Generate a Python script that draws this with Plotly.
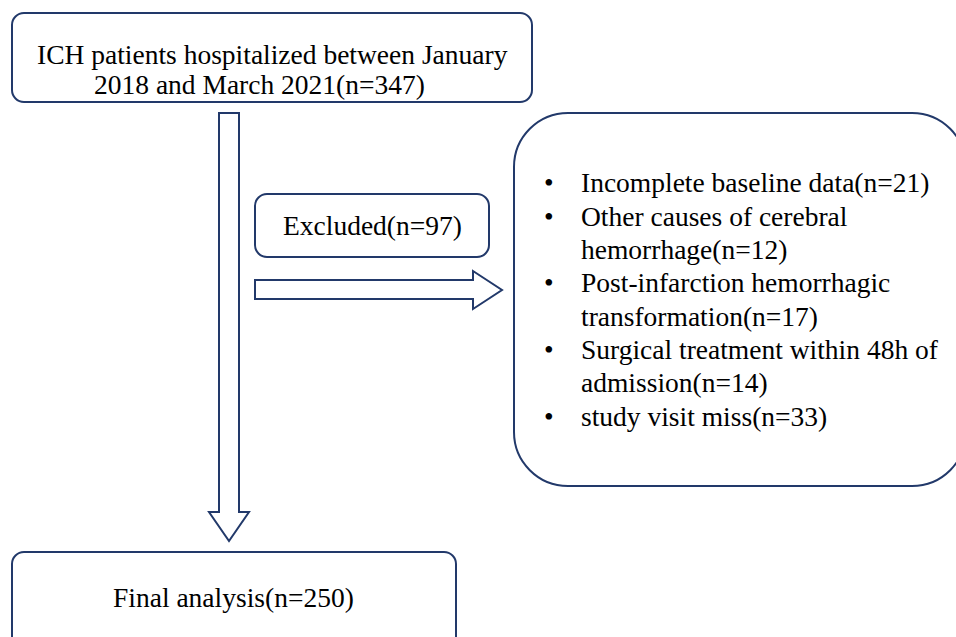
import plotly.graph_objects as go

# ---------------- data (text content of the flowchart) ----------------
n_total = 347
n_excluded = 97
n_final = 250
top_lines = ["ICH patients hospitalized between January",
             f"2018 and March 2021(n={n_total})"]
excluded_label = f"Excluded(n={n_excluded})"
final_label = f"Final analysis(n={n_final})"
reason_names = [["Incomplete baseline data"],
                ["Other causes of cerebral", "hemorrhage"],
                ["Post-infarction hemorrhagic", "transformation"],
                ["Surgical treatment within 48h of", "admission"],
                ["study visit miss"]]
reason_counts = [21, 12, 17, 14, 33]

# ---------------- style ----------------
W, H = 956, 637
FONT = "Liberation Serif, Times New Roman, serif"
FS = 27.5
BORDER = "#22396A"
LW = 2

def rrect(x0, y0, x1, y1, r):
    k = 0.5523 * r
    return (f"M {x0+r},{y0} L {x1-r},{y0} "
            f"C {x1-r+k},{y0} {x1},{y0+r-k} {x1},{y0+r} "
            f"L {x1},{y1-r} "
            f"C {x1},{y1-r+k} {x1-r+k},{y1} {x1-r},{y1} "
            f"L {x0+r},{y1} "
            f"C {x0+r-k},{y1} {x0},{y1-r+k} {x0},{y1-r} "
            f"L {x0},{y0+r} "
            f"C {x0},{y0+r-k} {x0+r-k},{y0} {x0+r},{y0} Z")

shapes = []
def add_path(p):
    shapes.append(dict(type="path", path=p, xref="x", yref="y",
                       line=dict(color=BORDER, width=LW), fillcolor="white", layer="above"))

# boxes
add_path(rrect(12, 13, 532, 102, 12))          # top box
add_path(rrect(255, 194, 489, 257, 12))        # excluded box
add_path(rrect(514, 113, 966, 486, 54))        # reasons box
add_path(rrect(12, 552, 456, 650, 12))         # final box

# vertical block arrow
add_path("M 219,113 L 239,113 L 239,512 L 249,512 L 229,541 L 209,512 L 219,512 Z")
# horizontal block arrow
add_path("M 255,280 L 473,280 L 473,271 L 502,290 L 473,309 L 473,299 L 255,299 Z")

annotations = []
def txt(x, baseline, s, anchor="center"):
    annotations.append(dict(x=x, y=baseline - 0.3375 * FS, xref="x", yref="y",
                            text=s, showarrow=False, xanchor=anchor, yanchor="middle",
                            font=dict(family=FONT, size=FS, color="black")))

txt(272, 63.3, top_lines[0])
txt(259.5, 93.3, top_lines[1])
txt(372, 235, excluded_label)
txt(233, 607, final_label)

base = 192.0
step = 33.35
i = 0
for names, cnt in zip(reason_names, reason_counts):
    lines = list(names)
    lines[-1] = f"{lines[-1]}(n={cnt})"
    txt(549, base + i * step, "•", "center")
    for ln in lines:
        txt(579, base + i * step, ln, "left")
        i += 1

fig = go.Figure()
fig.update_layout(
    width=W, height=H, autosize=False,
    margin=dict(l=0, r=0, t=0, b=0),
    paper_bgcolor="white", plot_bgcolor="white",
    xaxis=dict(range=[0, W], visible=False, fixedrange=True),
    yaxis=dict(range=[H, 0], visible=False, fixedrange=True),
    shapes=shapes, annotations=annotations, showlegend=False,
)
fig.write_html("out.html",
               config={"displayModeBar": False},
               post_script="document.body.style.margin='0';document.body.style.overflow='hidden';")
